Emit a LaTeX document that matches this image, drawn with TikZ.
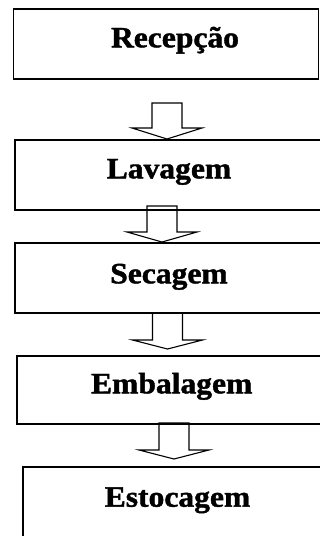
\documentclass[tikz,border=0pt]{standalone}
\usepackage{fontspec}
\setmainfont{Liberation Serif}[BoldFeatures={FakeBold=1.4}]
\newcommand{\wide}[1]{\scalebox{1.07}[1]{\bfseries #1}}
\tikzset{
  stage/.style={draw=black, line width=1.8pt, fill=none, inner sep=0pt},
  lbl/.style={anchor=base, inner sep=0pt, font=\fontsize{29.5}{32}\selectfont\bfseries},
  blk/.style={draw=black, line width=1.1pt, line join=miter}
}
\newcommand{\blockarr}[5]{%
  % #1 name, #2 center x, #3 top y, #4 wing y, #5 tip y
  \draw[blk] (#2-15,#3) -- (#2-15,#4) -- (#2-35,#4) -- (#2,#5) coordinate (#1) -- (#2+35,#4) -- (#2+15,#4) -- (#2+15,#3) -- cycle;
}
\begin{document}
\begin{tikzpicture}[x=1pt,y=-1pt]
\useasboundingbox (0,0) rectangle (320,536);
\clip (0,0) rectangle (320,536);
% boxes
\node[stage, minimum width=305pt, minimum height=70pt] (b1) at (166,44) {};
\node[stage, minimum width=330pt, minimum height=70pt] (b2) at (180,175) {};
\node[stage, minimum width=330pt, minimum height=70pt] (b3) at (180,278) {};
\node[stage, minimum width=330pt, minimum height=68pt] (b4) at (182,390) {};
\node[stage, minimum width=330pt, minimum height=120pt] (b5) at (188,527) {};
% labels
\node[lbl] (t1) at (175,47.3) {\wide{Recepção}};
\node[lbl] (t2) at (169,178.3) {\wide{Lavagem}};
\node[lbl] (t3) at (169,283.3) {\wide{Secagem}};
\node[lbl] (t4) at (171.7,393.3) {\wide{Embalagem}};
\node[lbl] (t5) at (177.5,506.7) {\wide{Estocagem}};
% block arrows
\blockarr{a1}{167}{103}{128}{139}
\blockarr{a2}{162}{206}{232}{242}
\blockarr{a3}{167.5}{313}{340}{349}
\blockarr{a4}{174}{423}{450}{459}
\end{tikzpicture}
\end{document}
